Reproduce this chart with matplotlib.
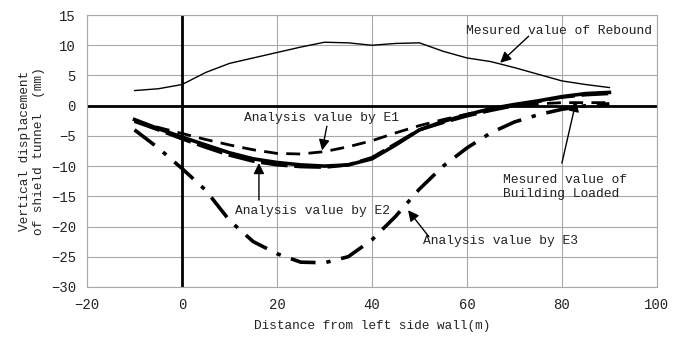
import matplotlib
matplotlib.use("Agg")
import matplotlib.pyplot as plt

x = [-10, -5, 0, 5, 10, 15, 20, 25, 30, 35, 40, 45, 50, 55, 60, 65, 70, 75, 80, 85, 90]
rebound = [2.5, 2.8, 3.5, 5.5, 7.0, 7.9, 8.8, 9.7, 10.5, 10.4, 10.0, 10.3, 10.4, 9.0, 7.9, 7.3, 6.3, 5.2, 4.1, 3.5, 3.0]
loaded = [-2.3, -3.8, -5.2, -6.5, -7.8, -8.8, -9.4, -9.8, -10.0, -9.8, -8.8, -6.5, -4.0, -2.6, -1.5, -0.5, 0.2, 0.8, 1.5, 2.0, 2.2]
e1 = [-2.5, -3.6, -4.6, -5.6, -6.5, -7.3, -7.9, -8.0, -7.6, -6.8, -5.8, -4.5, -3.3, -2.3, -1.4, -0.6, 0.0, 0.3, 0.5, 0.5, 0.5]
e2 = [-2.6, -4.0, -5.5, -6.9, -8.2, -9.2, -9.8, -10.1, -10.2, -9.8, -8.6, -6.3, -4.0, -2.8, -1.7, -0.8, 0.0, 0.7, 1.4, 1.8, 2.0]
e3 = [-4.0, -7.0, -10.4, -14.0, -19.0, -22.5, -24.5, -25.9, -26.0, -25.0, -22.2, -18.3, -13.8, -10.0, -7.0, -4.5, -2.7, -1.5, -0.6, 0.0, 0.3]

xticks = [-20, 0, 20, 40, 60, 80, 100]
yticks = [-30, -25, -20, -15, -10, -5, 0, 5, 10, 15]

FONT = "Liberation Mono"

fig = plt.figure(figsize=(6.8, 3.42), dpi=100)
ax = fig.add_axes([0.128, 0.161, 0.838, 0.795])

ax.set_xlim(-20, 100)
ax.set_ylim(-30, 15)
ax.set_xticks(xticks)
ax.set_yticks(yticks)
ax.grid(True, color="#a8a8a8", lw=0.8)
ax.set_axisbelow(True)
for s in ax.spines.values():
    s.set_color("#a8a8a8")
    s.set_linewidth(0.8)
ax.tick_params(length=0, pad=8, labelsize=10)
for lab in ax.get_xticklabels() + ax.get_yticklabels():
    lab.set_family(FONT)
    lab.set_color("#222222")

ax.axhline(0, color="black", lw=2, zorder=2)
ax.axvline(0, color="black", lw=2, zorder=2)

ax.plot(x, rebound, color="black", lw=1.0, zorder=3)
ax.plot(x, e3, color="black", lw=2.6, dashes=(7, 3, 1.2, 3), zorder=3)
ax.plot(x, e1, color="black", lw=2.0, dashes=(5, 3), zorder=3)
ax.plot(x, e2, color="black", lw=2.4, dashes=(8, 2), zorder=3)
ax.plot(x, loaded, color="black", lw=2.6, zorder=4)

ap = dict(arrowstyle="-|>", color="black", lw=1.0, mutation_scale=16, shrinkA=0, shrinkB=0)
tk = dict(family=FONT, fontsize=9.4, color="#222222")

ax.text(59.8, 12.3, "Mesured value of Rebound", va="center", ha="left", **tk)
ax.annotate("", xy=(67, 7.1), xytext=(73, 11.5), arrowprops=ap)

ax.text(13.0, -2.1, "Analysis value by E1", va="center", ha="left", **tk)
ax.annotate("", xy=(29.5, -7.4), xytext=(30.5, -3.4), arrowprops=ap)

ax.text(11.2, -17.4, "Analysis value by E2", va="center", ha="left", **tk)
ax.annotate("", xy=(16.2, -9.5), xytext=(16.2, -15.6), arrowprops=ap)

ax.text(50.7, -22.4, "Analysis value by E3", va="center", ha="left", **tk)
ax.annotate("", xy=(47.6, -17.3), xytext=(52, -21.7), arrowprops=ap)

ax.text(67.6, -13.5, "Mesured value of\nBuilding Loaded", va="center", ha="left",
        linespacing=1.2, **tk)
ax.annotate("", xy=(83, 0.8), xytext=(80, -9.5), arrowprops=ap)

ax.set_xlabel("Distance from left side wall(m)", family=FONT, fontsize=9.2,
              color="#222222", labelpad=6)
ax.set_ylabel("Vertical displacement\nof shield tunnel  (mm)", family=FONT,
              fontsize=9.2, color="#222222", labelpad=4, linespacing=1.3)

fig.savefig("out.png", dpi=100)
